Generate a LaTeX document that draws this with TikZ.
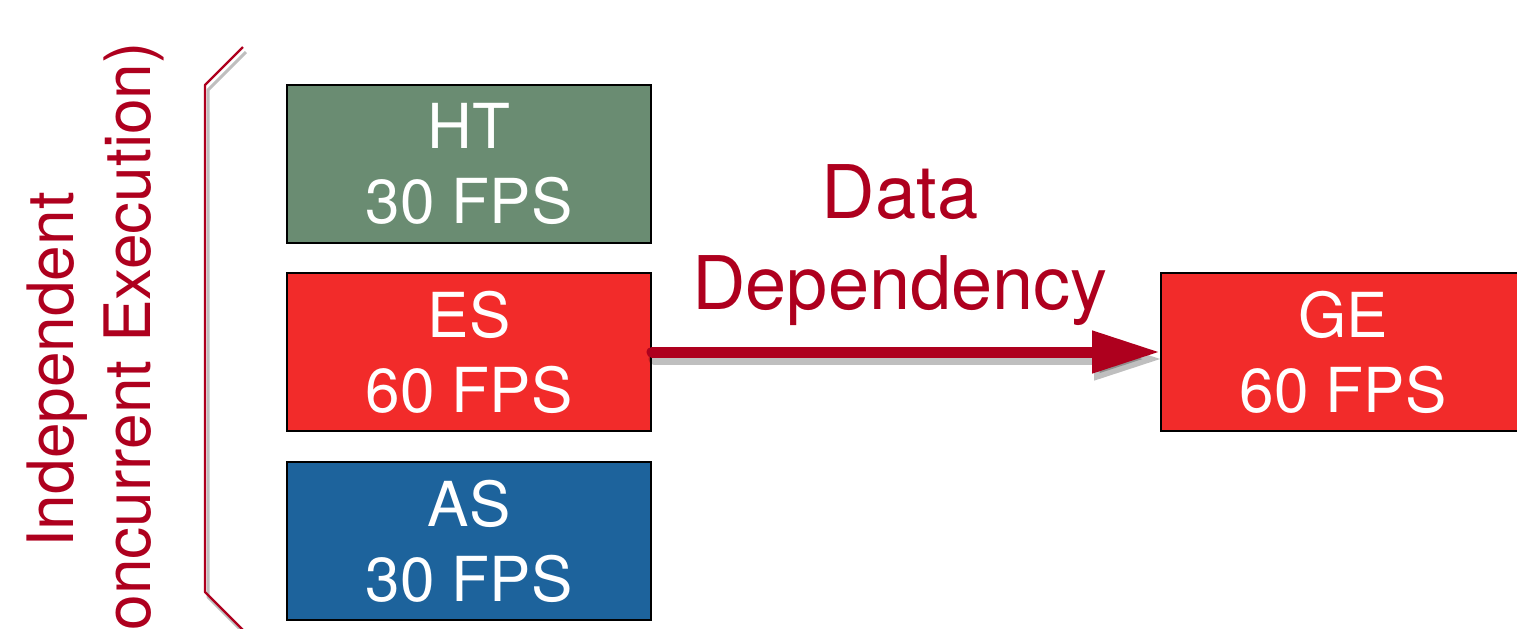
\documentclass[tikz,border=0pt]{standalone}
\usepackage{fontspec}
\setmainfont{TeX Gyre Heros}
\usetikzlibrary{arrows.meta}
\definecolor{htgreen}{HTML}{6A8C72}
\definecolor{esred}{HTML}{F22B2A}
\definecolor{asblue}{HTML}{1D639C}
\definecolor{darkred}{HTML}{AE001E}
\tikzset{
  task/.style={draw=black, line width=1pt, minimum width=182pt, minimum height=79pt,
    inner sep=0pt, text=white, align=center,
    font=\fontsize{31}{37.5}\selectfont},
  lbl/.style={text=darkred, align=center, inner sep=0pt},
  shadowline/.style={draw=black, opacity=0.25},
}
\begin{document}
\begin{tikzpicture}[x=0.5pt, y=-0.5pt]
\useasboundingbox (0,0) rectangle (1517,628);
% boxes
\node[task, fill=htgreen] (ht) at (469,163.5) {HT\\30 FPS};
\node[task, fill=esred] (es) at (469,352) {ES\\60 FPS};
\node[task, fill=asblue] (as) at (469,541) {AS\\30 FPS};
\node[task, fill=esred] (ge) at (1343,352) {GE\\60 FPS};
% label
\node[lbl, anchor=base, font=\fontsize{37}{45.5}\selectfont] (dd) at (900,309) {Data\\Dependency};
% rotated label
\node[lbl, rotate=90, font=\fontsize{32}{38.5}\selectfont] (ind) at (95,370) {Independent\\(Concurrent Execution)};
% bracket
\coordinate (b1) at (243,47);
\coordinate (b2) at (205,85);
\coordinate (b3) at (205,592);
\coordinate (b4) at (243,630);
\draw[shadowline, line width=1.5pt, line join=round] ([shift={(3,5)}]b1) -- ([shift={(3,5)}]b2) -- ([shift={(3,5)}]b3) -- ([shift={(3,5)}]b4);
\draw[darkred, line width=1.2pt, line join=round] (b1) -- (b2) -- (b3) -- (b4);
% arrow
\draw[shadowline, line width=5.5pt, line cap=round, -{Triangle[length=34pt,width=20pt]}]
  ([shift={(2,7)}]es.east) -- ([shift={(2,7)}]ge.west);
\draw[darkred, line width=5.5pt, line cap=round, -{Triangle[length=34pt,width=20pt]}]
  (es.east) -- (ge.west);
\end{tikzpicture}
\end{document}
